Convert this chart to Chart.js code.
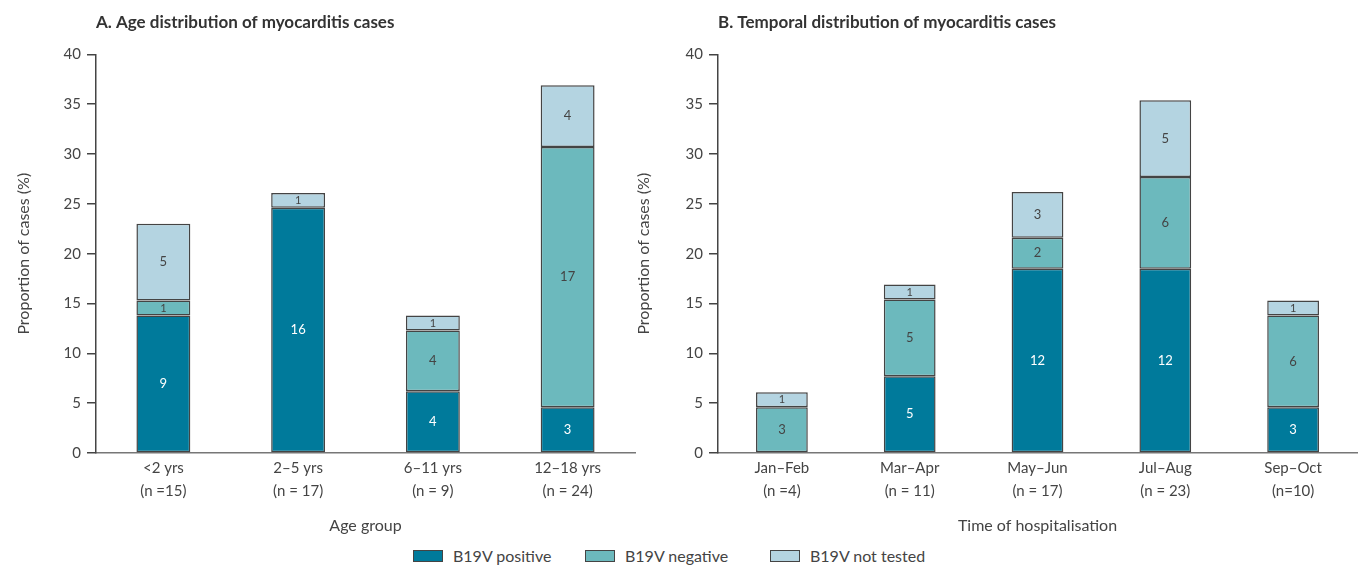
<!DOCTYPE html>
<html>
<head>
<meta charset="utf-8">
<script src="https://cdn.jsdelivr.net/npm/chart.js@4/dist/chart.umd.min.js"></script>
<style>
  body { margin: 0; background: #fff; font-family: Lato, sans-serif; color: #444; }
  .wrap { position: absolute; }
  #legend { position: absolute; left: 0; top: 546px; width: 1359px; height: 20px; font-size: 16px; color: #444; }
  #legend span.item { position: absolute; display: flex; align-items: center; top: 0; }
  #legend span.box { width: 28px; height: 10px; border: 1px solid #444; margin-right: 10px; display: inline-block; }
</style>
</head>
<body>
<div class="wrap" style="left:0;top:0;width:637px;height:545px"><canvas id="chartA"></canvas></div>
<div class="wrap" style="left:620px;top:0;width:739px;height:545px"><canvas id="chartB"></canvas></div>
<div id="legend"></div>
<script>
const seriesNames = ['B19V positive', 'B19V negative', 'B19V not tested'];
const seriesColors = ['#007a9b', '#6cb9bd', '#b4d4e1'];
const yTicks = [0, 5, 10, 15, 20, 25, 30, 35, 40];

// Panel A - age groups
const ageLabels = [['<2 yrs', '(n =15)'], ['2–5 yrs', '(n = 17)'], ['6–11 yrs', '(n = 9)'], ['12–18 yrs', '(n = 24)']];
const agePositive = [13.8, 24.6, 6.2, 4.6];
const ageNegative = [1.5, null, 6.1, 26.1];
const ageNotTested = [7.7, 1.5, 1.5, 6.2];
const agePositiveN = [9, 16, 4, 3];
const ageNegativeN = [1, 0, 4, 17];
const ageNotTestedN = [5, 1, 1, 4];

// Panel B - time of hospitalisation
const timeLabels = [['Jan–Feb', '(n =4)'], ['Mar–Apr', '(n = 11)'], ['May–Jun', '(n = 17)'], ['Jul–Aug', '(n = 23)'], ['Sep–Oct', '(n=10)']];
const timePositive = [null, 7.7, 18.5, 18.5, 4.6];
const timeNegative = [4.6, 7.7, 3.1, 9.2, 9.2];
const timeNotTested = [1.5, 1.5, 4.6, 7.7, 1.5];
const timePositiveN = [0, 5, 12, 12, 3];
const timeNegativeN = [3, 5, 2, 6, 6];
const timeNotTestedN = [1, 1, 3, 5, 1];

const segmentLabels = {
    id: 'segmentLabels',
    afterDatasetsDraw(chart) {
        const ctx = chart.ctx;
        chart.data.datasets.forEach((ds, i) => {
            const meta = chart.getDatasetMeta(i);
            meta.data.forEach((bar, j) => {
                const n = ds.counts[j];
                if (!n || ds.data[j] == null) return;
                const h = Math.abs(bar.base - bar.y);
                ctx.save();
                ctx.font = (h < 20 ? '11px' : '13px') + ' Lato';
                ctx.fillStyle = i === 0 ? '#ffffff' : '#444444';
                ctx.textAlign = 'center';
                ctx.textBaseline = 'middle';
                ctx.fillText(n, bar.x, (bar.y + bar.base) / 2);
                ctx.restore();
            });
        });
    }
};

function makeChart(id, labels, values, counts, title, xTitle, yWidth, barPct) {
    return new Chart(document.getElementById(id), {
        type: 'bar',
        data: {
            labels: labels,
            datasets: values.map((v, i) => ({
                label: seriesNames[i],
                data: v,
                counts: counts[i],
                backgroundColor: seriesColors[i],
                borderColor: '#444',
                borderWidth: 1.5,
                borderSkipped: false,
                barPercentage: barPct,
                categoryPercentage: 1
            }))
        },
        options: {
            responsive: true,
            maintainAspectRatio: false,
            animation: false,
            layout: { padding: { left: 0, right: 2, top: 0, bottom: 0 } },
            scales: {
                x: {
                    stacked: true,
                    grid: { display: false, drawTicks: false },
                    border: { display: true, color: '#777', width: 1.5 },
                    ticks: { color: '#444', font: { family: 'Lato', size: 15, lineHeight: 1.5 }, padding: 4, maxRotation: 0 },
                    title: { display: true, text: xTitle, color: '#444', font: { family: 'Lato', size: 16 }, padding: { top: 0, bottom: 10 } },
                    afterFit: (s) => { s.height = 92; }
                },
                y: {
                    stacked: true,
                    min: 0,
                    max: 40,
                    afterBuildTicks: (s) => { s.ticks = yTicks.map(v => ({ value: v })); },
                    grid: { drawOnChartArea: false, drawTicks: true, tickLength: 9, color: '#444', lineWidth: 1.5 },
                    border: { display: true, color: '#444', width: 1.5 },
                    ticks: { color: '#444', font: { family: 'Lato', size: 15 }, padding: 6 },
                    title: { display: true, text: 'Proportion of cases (%)', color: '#444', font: { family: 'Lato', size: 16 }, padding: { top: 14, bottom: 0 } },
                    afterFit: (s) => { s.width = yWidth; }
                }
            },
            plugins: {
                legend: { display: false },
                tooltip: { enabled: false },
                title: {
                    display: true,
                    text: title,
                    align: 'start',
                    fullSize: false,
                    color: '#333',
                    font: { family: 'Lato', size: 17, weight: 'bold' },
                    padding: { top: 12, bottom: 22 }
                }
            }
        },
        plugins: [segmentLabels]
    });
}

makeChart('chartA', ageLabels, [agePositive, ageNegative, ageNotTested],
    [agePositiveN, ageNegativeN, ageNotTestedN],
    'A. Age distribution of myocarditis cases', 'Age group', 96, 0.4);
makeChart('chartB', timeLabels, [timePositive, timeNegative, timeNotTested],
    [timePositiveN, timeNegativeN, timeNotTestedN],
    'B. Temporal distribution of myocarditis cases', 'Time of hospitalisation', 98, 0.405);

const legendX = [413, 585, 770];
const legend = document.getElementById('legend');
seriesNames.forEach((name, i) => {
    const item = document.createElement('span');
    item.className = 'item';
    item.style.left = legendX[i] + 'px';
    item.innerHTML = '<span class="box" style="background:' + seriesColors[i] + '"></span>' + name;
    legend.appendChild(item);
});
</script>
</body>
</html>
